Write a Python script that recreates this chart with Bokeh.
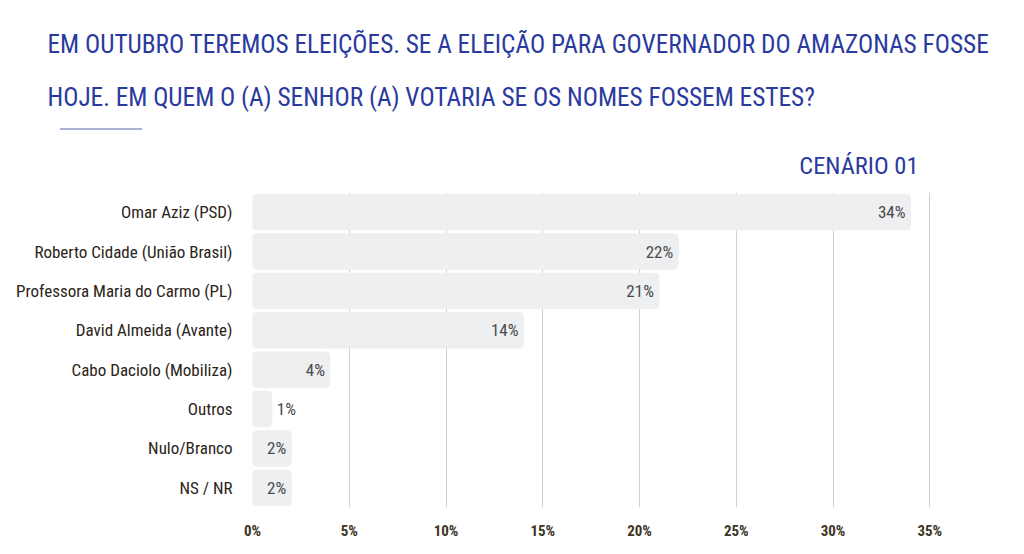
from bokeh.plotting import figure
from bokeh.layouts import column
from bokeh.models import (ColumnDataSource, Label, FixedTicker,
                          PrintfTickFormatter, Range1d)
from bokeh.core.properties import value
from bokeh.embed import file_html
from bokeh.resources import INLINE

# data
candidates = [
    "Omar Aziz (PSD)",
    "Roberto Cidade (União Brasil)",
    "Professora Maria do Carmo (PL)",
    "David Almeida (Avante)",
    "Cabo Daciolo (Mobiliza)",
    "Outros",
    "Nulo/Branco",
    "NS / NR",
]
percent = [34, 22, 21, 14, 4, 1, 2, 2]
x_ticks = [0, 5, 10, 15, 20, 25, 30, 35]

title_lines = [
    "EM OUTUBRO TEREMOS ELEIÇÕES. SE A ELEIÇÃO PARA GOVERNADOR DO AMAZONAS FOSSE",
    "HOJE. EM QUEM O (A) SENHOR (A) VOTARIA SE OS NOMES FOSSEM ESTES?",
]
subtitle = "CENÁRIO 01"

FONT = "'Roboto Condensed', 'DejaVu Sans Condensed', 'Liberation Sans Narrow', Roboto"
W = 1020
HEAD_H, CHART_H = 192, 358
BLUE = "#2a3a9e"
X_END = 35.5
N = len(candidates)

# --- heading: a bare figure whose data units are pixels (y grows downward)
head = figure(width=W, height=HEAD_H, x_range=Range1d(0, W), y_range=Range1d(HEAD_H, 0),
              x_axis_type=None, y_axis_type=None, output_backend="svg",
              toolbar_location=None, min_border=0)
head.outline_line_color = None
head.grid.visible = False

for i, line in enumerate(title_lines):
    head.add_layout(Label(x=47, y=44 + 53 * i, text=line, text_font=FONT,
                          text_font_size="25.3px", text_color=BLUE,
                          text_baseline="alphabetic"))
head.add_layout(Label(x=918, y=165, text=subtitle, text_font=FONT,
                      text_font_size="24.5px", text_color=BLUE, text_align="right",
                      text_baseline="alphabetic"))
# short dotted rule under the question
head.segment(x0=[60], y0=[128.5], x1=[141], y1=[128.5], line_color="#1f2f8a",
             line_width=1.5, line_dash="1 1")

# --- bar chart
rows = [N - 0.5 - i for i in range(N)]  # first candidate on top
labels = [f"{v}%" for v in percent]
inside = [v >= 2 for v in percent]
src = ColumnDataSource(dict(y=rows, x=percent, t=labels))
src_in = ColumnDataSource(dict(
    y=[r for r, i in zip(rows, inside) if i],
    x=[v for v, i in zip(percent, inside) if i],
    t=[l for l, i in zip(labels, inside) if i],
))
src_out = ColumnDataSource(dict(
    y=[r for r, i in zip(rows, inside) if not i],
    x=[v for v, i in zip(percent, inside) if not i],
    t=[l for l, i in zip(labels, inside) if not i],
))

p = figure(width=W, height=CHART_H, y_range=Range1d(0, N),
           x_range=Range1d(0, X_END), output_backend="svg", toolbar_location=None,
           min_border_left=252, min_border_right=81,
           min_border_top=0, min_border_bottom=43)
p.outline_line_color = None

p.hbar(y="y", right="x", left=0, height=0.9, source=src,
       color="#edeff0", border_radius=4)

p.text(x="x", y="y", text="t", source=src_in, text_align="right",
       text_baseline="middle", x_offset=-5, text_font=value(FONT),
       text_font_size="17px", text_color="#4a4a4a")
p.text(x="x", y="y", text="t", source=src_out, text_align="left",
       text_baseline="middle", x_offset=5, text_font=value(FONT),
       text_font_size="17px", text_color="#4a4a4a")

p.xgrid.grid_line_color = "#d0d0d0"
p.ygrid.grid_line_color = None
p.xaxis.ticker = FixedTicker(ticks=x_ticks)
p.xaxis.formatter = PrintfTickFormatter(format="%d%%")
p.xaxis.axis_line_color = None
p.xaxis.major_tick_line_color = None
p.xaxis.minor_tick_line_color = None
p.xaxis.major_label_standoff = 8
p.xaxis.major_label_text_font = FONT
p.xaxis.major_label_text_font_size = "15px"
p.xaxis.major_label_text_font_style = "bold"
p.xaxis.major_label_text_color = "#3b3526"

p.yaxis.ticker = FixedTicker(ticks=rows)
p.yaxis.major_label_overrides = {r: c for r, c in zip(rows, candidates)}
p.yaxis.axis_line_color = None
p.yaxis.major_tick_line_color = None
p.yaxis.minor_tick_line_color = None
p.yaxis.major_label_standoff = 14
p.yaxis.major_label_text_font = FONT
p.yaxis.major_label_text_font_size = "17px"
p.yaxis.major_label_text_color = "#2b2418"

# keep the heading's frame on the whole canvas instead of lining it up with the bars
for f in (head, p):
    if "frame_align" in f.properties():
        f.frame_align = False

open("out.html", "w").write(file_html(column(head, p), INLINE))
